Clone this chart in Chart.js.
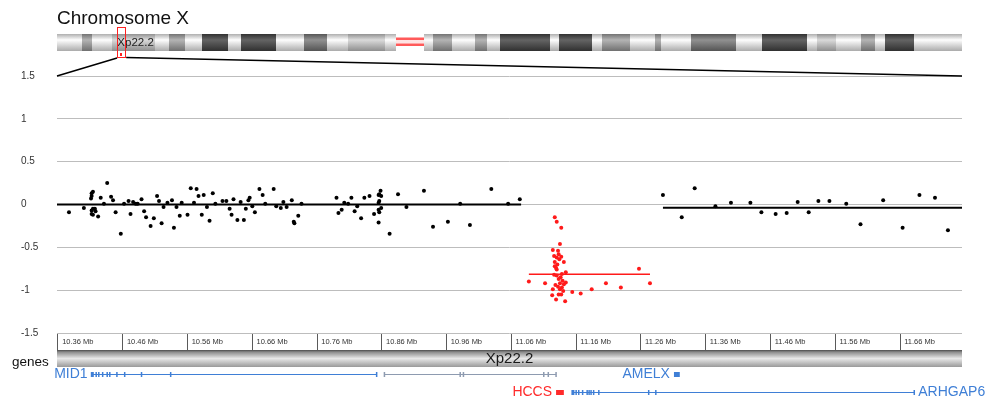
<!DOCTYPE html>
<html>
<head>
<meta charset="utf-8">
<title>Chromosome X</title>
<script src="https://cdn.jsdelivr.net/npm/chart.js@4.4.1/dist/chart.umd.min.js"></script>
<style>
  html, body { margin: 0; padding: 0; background: #fff; }
</style>
</head>
<body>
<canvas id="cnv" width="992" height="400"></canvas>
<script>
// axis ranges and ticks (Mb / log ratio)
const xRange = [10.3585, 11.7557];
const xTicks = [10.36, 10.46, 10.56, 10.66, 10.76, 10.86, 10.96, 11.06, 11.16, 11.26, 11.36, 11.46, 11.56, 11.66];
const yTicks = [-1.5, -1, -0.5, 0, 0.5, 1, 1.5];

// chromosome X ideogram (Mb)
const chromLength = 156.04;
const bandStart = [0, 4.3, 6.0, 9.5, 16.9, 19.3, 22.1, 25.0, 29.5, 31.7, 37.8, 42.6, 46.5, 50.2, 56.5, 58.4, 63.3, 64.8, 68.1, 72.1, 74.1, 76.4, 85.0, 86.5, 92.2, 93.9, 98.8, 103.1, 104.1, 109.3, 117.0, 121.5, 129.3, 131.0, 134.3, 138.6, 141.0, 142.7, 147.7];
const bandEnd   = [4.3, 6.0, 9.5, 16.9, 19.3, 22.1, 25.0, 29.5, 31.7, 37.8, 42.6, 46.5, 50.2, 56.5, 58.4, 63.3, 64.8, 68.1, 72.1, 74.1, 76.4, 85.0, 86.5, 92.2, 93.9, 98.8, 103.1, 104.1, 109.3, 117.0, 121.5, 129.3, 131.0, 134.3, 138.6, 141.0, 142.7, 147.7, 156.04];
const bandStain = ['gneg', 'gpos50', 'gneg', 'gpos25', 'gneg', 'gpos50', 'gneg', 'gpos100', 'gneg', 'gpos100', 'gneg', 'gpos75', 'gneg', 'gpos25', 'gneg', 'acen', 'gneg', 'gpos50', 'gneg', 'gpos50', 'gneg', 'gpos100', 'gneg', 'gpos100', 'gneg', 'gpos50', 'gneg', 'gpos50', 'gneg', 'gpos75', 'gneg', 'gpos100', 'gneg', 'gpos25', 'gneg', 'gpos50', 'gneg', 'gpos100', 'gneg'];
const bandName = 'Xp22.2';
const bandNameRange = [9.5, 16.9];

// probes, normal copy number (left of the loss)
const leftPos = [10.377, 10.400, 10.412, 10.412, 10.414, 10.411, 10.414, 10.412, 10.417, 10.418, 10.412, 10.414, 10.422, 10.426, 10.431, 10.436, 10.442, 10.445, 10.449, 10.457,
  10.462, 10.469, 10.472, 10.476, 10.480, 10.483, 10.489, 10.493, 10.496, 10.503, 10.508, 10.513, 10.516, 10.520, 10.523, 10.529, 10.536, 10.539, 10.543, 10.548,
  10.551, 10.560, 10.565, 10.574, 10.570, 10.577, 10.585, 10.582, 10.590, 10.594, 10.599, 10.603, 10.614, 10.620, 10.625, 10.628, 10.631, 10.637, 10.642, 10.647,
  10.650, 10.654, 10.656, 10.660, 10.664, 10.671, 10.676, 10.680, 10.693, 10.697, 10.704, 10.708, 10.713, 10.721, 10.724, 10.725, 10.731, 10.736, 10.790, 10.793,
  10.798, 10.802, 10.808, 10.813, 10.818, 10.822, 10.828, 10.833, 10.841, 10.848, 10.855, 10.856, 10.859, 10.856, 10.855, 10.858, 10.859, 10.855, 10.856, 10.855,
  10.872, 10.885, 10.898, 10.925, 10.939, 10.962, 10.981, 10.996, 11.029, 11.055, 11.073];
const leftVal = [-0.09, -0.04, 0.10, 0.13, 0.15, 0.07, -0.05, -0.07, -0.05, -0.08, -0.11, -0.12, -0.14, 0.08, 0.01, 0.25, 0.09, 0.05, -0.09, -0.34,
  0.01, 0.04, -0.11, 0.03, 0.01, 0.01, 0.06, -0.08, -0.15, -0.25, -0.16, 0.10, 0.04, -0.22, -0.03, 0.02, 0.05, -0.27, -0.03, -0.13,
  0.02, -0.12, 0.19, 0.18, 0.02, 0.10, 0.11, -0.12, -0.03, -0.19, 0.13, 0.01, 0.04, 0.04, -0.05, -0.12, 0.06, -0.18, 0.03, -0.18,
  -0.05, 0.05, 0.08, -0.02, -0.09, 0.18, 0.11, 0.01, 0.18, -0.02, -0.04, 0.03, -0.03, 0.05, -0.20, -0.22, -0.13, 0.01, 0.08, -0.10,
  -0.06, 0.02, 0.01, 0.08, -0.08, -0.02, -0.16, 0.08, 0.10, -0.11, 0.11, 0.12, 0.10, 0.04, 0.02, 0.16, -0.04, -0.06, -0.09, -0.21,
  -0.34, 0.12, -0.03, 0.16, -0.26, -0.20, 0.01, -0.24, 0.18, 0.01, 0.06];

// probes inside the deleted segment (HCCS)
const lossPos = [11.127, 11.130, 11.137, 11.135, 11.124, 11.132, 11.133, 11.126, 11.130, 11.137, 11.127, 11.141, 11.127, 11.129, 11.130, 11.144, 11.138, 11.126, 11.130, 11.087,
  11.112, 11.133, 11.139, 11.144, 11.135, 11.141, 11.132, 11.138, 11.135, 11.140, 11.124, 11.123, 11.133, 11.137, 11.154, 11.167, 11.184, 11.129, 11.143, 11.206,
  11.229, 11.257, 11.274, 11.131, 11.136, 11.128, 11.134];
const lossVal = [-0.15, -0.20, -0.27, -0.46, -0.53, -0.54, -0.58, -0.60, -0.62, -0.61, -0.67, -0.67, -0.72, -0.74, -0.76, -0.79, -0.81, -0.82, -0.83, -0.90,
  -0.92, -0.87, -0.89, -0.91, -0.92, -0.93, -0.96, -0.97, -0.99, -1.01, -0.99, -1.06, -1.05, -1.05, -1.02, -1.04, -0.99, -1.11, -1.13, -0.92,
  -0.97, -0.75, -0.92, -0.70, -0.85, -0.94, -0.64];

// probes, normal copy number (right of the loss)
const rightPos = [11.294, 11.323, 11.343, 11.375, 11.399, 11.429, 11.446, 11.468, 11.485, 11.502, 11.519, 11.534, 11.551, 11.577, 11.599, 11.634, 11.664, 11.690, 11.714, 11.734];
const rightVal = [0.11, -0.15, 0.19, -0.02, 0.02, 0.02, -0.09, -0.11, -0.10, 0.03, -0.09, 0.04, 0.04, 0.01, -0.23, 0.05, -0.27, 0.11, 0.08, -0.30];

// segmentation
const segStart = [10.3585, 11.087, 11.294];
const segEnd   = [11.075, 11.274, 11.7557];
const segMean  = [0.0, -0.815, -0.037];
const lossSegment = 1;

// genes
const geneNames = ['MID1', '', 'AMELX', 'HCCS', 'ARHGAP6'];
const geneStart = [10.412, 10.864, 11.311, 11.129, 11.154];
const geneEnd   = [10.852, 11.129, 11.320, 11.141, 11.682];
const geneRow   = [0, 0, 0, 1, 1];
const geneExons = [
  [10.413, 10.419, 10.423, 10.429, 10.436, 10.440, 10.451, 10.463, 10.489, 10.534, 10.852],
  [10.864, 10.981, 10.986, 11.110, 11.117, 11.129],
  [],
  [],
  [11.155, 11.160, 11.164, 11.170, 11.177, 11.180, 11.183, 11.187, 11.195, 11.272, 11.283, 11.682]
];
const highlightGene = 'HCCS';

const toPts = (xs, ys) => xs.map((x, i) => ({ x: x, y: ys[i] }));

const stainGray = { gneg: 214, gpos25: 178, gpos50: 140, gpos75: 105, gpos100: 60 };
function gray(v) {
  v = Math.max(0, Math.min(255, Math.round(v)));
  return 'rgb(' + v + ',' + v + ',' + v + ')';
}

const decor = {
  id: 'decor',
  afterDraw(chart) {
    const ctx = chart.ctx;
    const area = chart.chartArea;
    const xs = chart.scales.x;
    ctx.save();

    // title
    ctx.fillStyle = '#111';
    ctx.font = '19px "Liberation Sans", Arial, sans-serif';
    ctx.textAlign = 'left';
    ctx.textBaseline = 'alphabetic';
    ctx.fillText('Chromosome X', 57, 24);

    // ideogram
    const iTop = 34, iBot = 51;
    const ix = mb => area.left + mb / chromLength * (area.right - area.left);
    for (let i = 0; i < bandStart.length; i++) {
      const x0 = Math.round(ix(bandStart[i])), x1 = Math.round(ix(bandEnd[i]));
      if (bandStain[i] === 'acen') {
        ctx.fillStyle = '#ffe3e3';
        ctx.fillRect(x0, 40, x1 - x0, 3.5);
        ctx.fillStyle = '#ff5a5a';
        ctx.fillRect(x0, 37.5, x1 - x0, 2.5);
        ctx.fillRect(x0, 43.5, x1 - x0, 2.5);
        continue;
      }
      const g = stainGray[bandStain[i]];
      const grad = ctx.createLinearGradient(0, iTop, 0, iBot);
      grad.addColorStop(0, gray(g * 0.82));
      grad.addColorStop(0.35, gray(g + 40));
      grad.addColorStop(1, gray(g * 0.8));
      ctx.fillStyle = grad;
      ctx.fillRect(x0, iTop, x1 - x0, iBot - iTop);
    }
    ctx.fillStyle = '#222';
    ctx.font = '11.5px "Liberation Sans", Arial, sans-serif';
    ctx.textAlign = 'center';
    ctx.textBaseline = 'middle';
    ctx.fillText(bandName, (ix(bandNameRange[0]) + ix(bandNameRange[1])) / 2 + 2, 43);

    // zoomed region box and lines
    const bx0 = ix(xRange[0]), bx1 = ix(xRange[1]);
    ctx.strokeStyle = '#ff2020';
    ctx.lineWidth = 1;
    ctx.strokeRect(Math.round(bx0) + 0.5, 27.5, Math.round(bx1 - bx0), 30);
    ctx.fillStyle = '#ff2020';
    ctx.fillRect(Math.round((bx0 + bx1) / 2) - 1, 53, 2, 3);
    ctx.strokeStyle = '#000';
    ctx.lineWidth = 1.5;
    ctx.beginPath();
    ctx.moveTo(bx0, 58);
    ctx.lineTo(area.left, area.top);
    ctx.moveTo(bx1 + 1, 57.5);
    ctx.lineTo(area.right, area.top);
    ctx.stroke();

    // band strip under the ruler
    const sTop = 350, sBot = 367;
    const sg = ctx.createLinearGradient(0, sTop, 0, sBot);
    sg.addColorStop(0, '#4a4a4a');
    sg.addColorStop(0.12, '#8c8c8c');
    sg.addColorStop(0.5, '#e8e8e8');
    sg.addColorStop(1, '#9a9a9a');
    ctx.fillStyle = sg;
    ctx.fillRect(area.left, sTop, area.right - area.left, sBot - sTop);
    ctx.fillStyle = '#1a1a1a';
    ctx.font = '15px "Liberation Sans", Arial, sans-serif';
    ctx.textAlign = 'center';
    ctx.textBaseline = 'alphabetic';
    ctx.fillText(bandName, (area.left + area.right) / 2, 363);

    ctx.fillStyle = '#111';
    ctx.font = '13.5px "Liberation Sans", Arial, sans-serif';
    ctx.textAlign = 'left';
    ctx.fillText('genes', 12, 366);

    // gene models
    const rowY = [374.5, 392.5];
    ctx.font = '14px "Liberation Sans", Arial, sans-serif';
    ctx.textBaseline = 'middle';
    for (let i = 0; i < geneNames.length; i++) {
      const y = rowY[geneRow[i]];
      const x0 = xs.getPixelForValue(geneStart[i]);
      const x1 = xs.getPixelForValue(geneEnd[i]);
      const name = geneNames[i];
      const col = name === highlightGene ? '#ff2a2a' : (name ? '#3f7fd6' : '#8e9bb0');
      ctx.strokeStyle = col;
      ctx.fillStyle = col;
      ctx.lineWidth = 1;
      if (x1 - x0 < 12) {
        ctx.fillRect(x0, y - 2.5, x1 - x0, 5);
      } else {
        ctx.beginPath();
        ctx.moveTo(x0, Math.floor(y) + 0.5);
        ctx.lineTo(x1, Math.floor(y) + 0.5);
        ctx.stroke();
        geneExons[i].forEach((e, k) => {
          const ex = xs.getPixelForValue(e);
          const w = k === 0 && name ? 3 : 1.5;
          ctx.fillRect(ex - w / 2, y - 2.5, w, 5);
        });
      }
      if (!name) continue;
      if (x1 > area.right - 120) {
        ctx.textAlign = 'left';
        ctx.fillText(name, x1 + 4, y);
      } else {
        ctx.textAlign = 'right';
        ctx.fillText(name, x0 - 4, y);
      }
    }
    ctx.restore();
  }
};

Chart.defaults.font.family = '"Liberation Sans", Arial, sans-serif';

const datasets = [
  {
    type: 'scatter',
    data: toPts(leftPos, leftVal).concat(toPts(rightPos, rightVal)),
    backgroundColor: '#000',
    borderColor: '#000',
    pointRadius: 2,
    borderWidth: 0
  },
  {
    type: 'scatter',
    data: toPts(lossPos, lossVal),
    backgroundColor: '#ff1a1a',
    borderColor: '#ff1a1a',
    pointRadius: 2,
    borderWidth: 0
  }
];
segStart.forEach((s, i) => {
  const c = i === lossSegment ? '#ff1a1a' : '#000';
  datasets.push({
    type: 'line',
    data: [{ x: s, y: segMean[i] }, { x: segEnd[i], y: segMean[i] }],
    borderColor: c,
    borderWidth: i === lossSegment ? 1.5 : 2,
    pointRadius: 0,
    fill: false
  });
});

new Chart(document.getElementById('cnv').getContext('2d'), {
  type: 'scatter',
  data: { datasets: datasets },
  options: {
    responsive: false,
    animation: false,
    layout: { padding: { left: 21, right: 30, top: 76, bottom: 0 } },
    plugins: {
      legend: { display: false },
      tooltip: { enabled: false },
      title: { display: false }
    },
    scales: {
      x: {
        type: 'linear',
        min: xRange[0],
        max: xRange[1],
        afterBuildTicks: s => { s.ticks = xTicks.map(v => ({ value: v })); },
        afterFit: s => { s.height = 67; },
        grid: { drawOnChartArea: false, drawTicks: true, tickLength: 17, color: '#5a5a5a' },
        border: { display: false },
        ticks: {
          align: 'start',
          padding: -13,
          autoSkip: false,
          maxRotation: 0,
          color: '#333',
          font: { size: 7.5 },
          callback: v => '  ' + v.toFixed(2) + ' Mb'
        }
      },
      y: {
        min: -1.5,
        max: 1.5,
        afterBuildTicks: s => { s.ticks = yTicks.map(v => ({ value: v })); },
        afterFit: s => { s.width = 36; },
        grid: { color: '#bdbdbd', drawTicks: false, tickLength: 0 },
        border: { display: false },
        ticks: { crossAlign: 'far', padding: 0, color: '#333', font: { size: 10 }, callback: v => String(v) }
      }
    }
  },
  plugins: [decor]
});
</script>
</body>
</html>
